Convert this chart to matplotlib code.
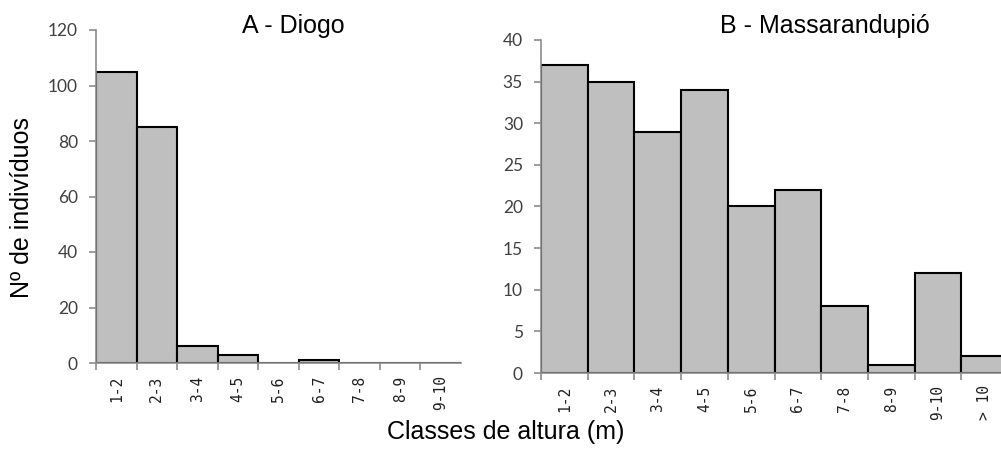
import numpy as np
import matplotlib.pyplot as plt

# --- dados ---
classes_a = ["1-2", "2-3", "3-4", "4-5", "5-6", "6-7", "7-8", "8-9", "9-10"]
valores_a = [105, 85, 6, 3, 0, 1, 0, 0, 0]

classes_b = ["1-2", "2-3", "3-4", "4-5", "5-6", "6-7", "7-8", "8-9", "9-10", "> 10"]
valores_b = [37, 35, 29, 34, 20, 22, 8, 1, 12, 2]

cor_barra = "#BFBFBF"
cor_eixo = "#8C8C8C"
cor_texto = "#404040"
fonte = ["Liberation Sans", "DejaVu Sans"]

fig = plt.figure(figsize=(10.01, 4.55), dpi=100)

ax_a = fig.add_axes([96 / 1001, 1 - 363 / 455, 365 / 1001, 333 / 455])
ax_b = fig.add_axes([541 / 1001, 1 - 373 / 455, 467 / 1001, 333 / 455])


def desenhar(ax, classes, valores, ymax, passo):
    x = np.arange(len(classes))
    ax.bar(x + 0.5, valores, width=1.0, color=cor_barra, edgecolor="black",
           linewidth=1.5, zorder=2)
    ax.set_xlim(0, len(classes))
    ax.set_ylim(0, ymax)
    for s in ["top", "right"]:
        ax.spines[s].set_visible(False)
    for s in ["left", "bottom"]:
        ax.spines[s].set_color(cor_eixo)
        ax.spines[s].set_linewidth(1.2)
    ax.set_yticks(np.arange(0, ymax + 0.1, passo))
    ax.tick_params(axis="y", colors=cor_eixo, length=5, width=1.2, labelsize=12.5,
                   labelcolor=cor_texto, pad=8, labelfontfamily="Lato")
    # rótulos no centro das classes, marcas nas fronteiras
    ax.set_xticks(x + 0.5)
    ax.set_xticklabels(classes, rotation=90, fontsize=10.5, family="DejaVu Sans Mono",
                       color="#202020")
    ax.tick_params(axis="x", length=0, pad=9)
    ax.set_xticks(np.arange(0, len(classes)), minor=True)
    ax.tick_params(axis="x", which="minor", length=5, width=1.2, colors=cor_eixo)


desenhar(ax_a, classes_a, valores_a, 120, 20)
desenhar(ax_b, classes_b, valores_b, 40, 5)

fig.text(293 / 1001, 1 - 26 / 455, "A - Diogo", ha="center", va="center",
         fontsize=18, family=fonte)
fig.text(825 / 1001, 1 - 26 / 455, "B - Massarandupió", ha="center", va="center",
         fontsize=18, family=fonte)
fig.text(22 / 1001, 1 - 207 / 455, "Nº de indivíduos", ha="center", va="center",
         rotation=90, fontsize=18, family=fonte)
fig.text(506 / 1001, 1 - 432 / 455, "Classes de altura (m)", ha="center", va="center",
         fontsize=18, family=fonte)

fig.savefig("out.png", dpi=100)
